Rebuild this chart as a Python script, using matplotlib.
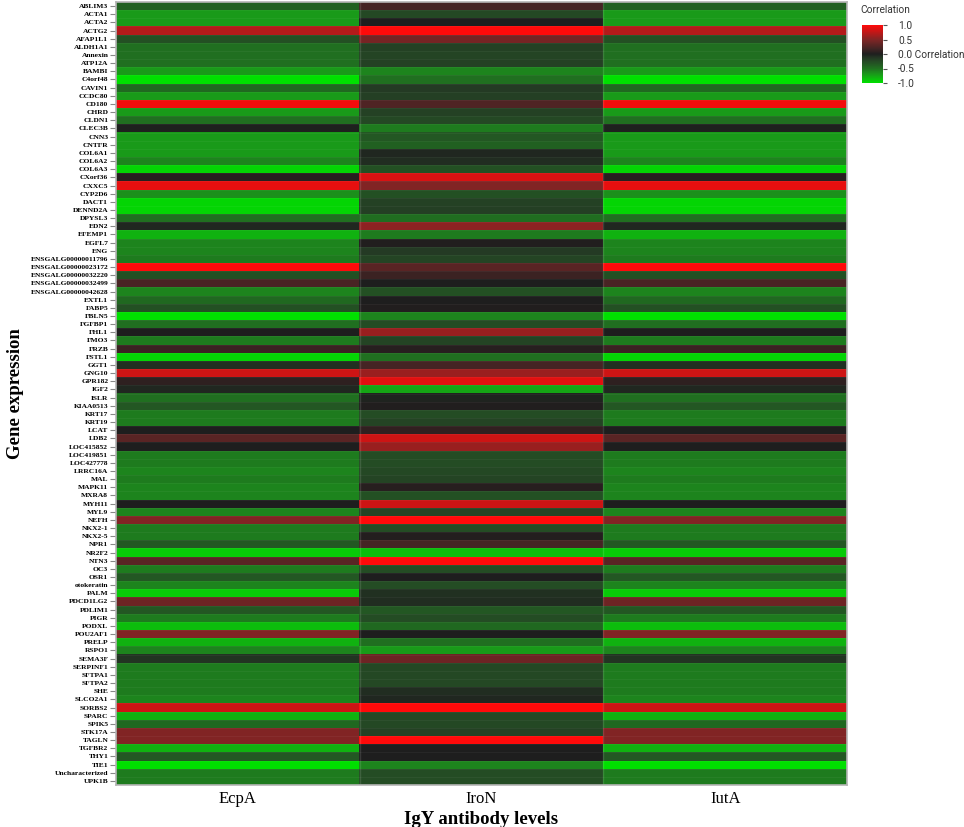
import matplotlib
matplotlib.use("Agg")
import matplotlib.pyplot as plt
import numpy as np
from matplotlib.colors import LinearSegmentedColormap

genes = ["ABLIM3", "ACTA1", "ACTA2", "ACTG2", "AFAP1L1", "ALDH1A1", "Annexin", "ATP12A",
         "BAMBI", "C4orf48", "CAVIN1", "CCDC80", "CD180", "CHRD", "CLDN1", "CLEC3B",
         "CNN3", "CNTFR", "COL6A1", "COL6A2", "COL6A3", "CXorf36", "CXXC5", "CYP2D6",
         "DACT1", "DENND2A", "DPYSL3", "EDN2", "EFEMP1", "EGFL7", "ENG",
         "ENSGALG00000011796", "ENSGALG00000023172", "ENSGALG00000032220",
         "ENSGALG00000032499", "ENSGALG00000042628", "EXTL1", "FABP5", "FBLN5",
         "FGFBP1", "FHL1", "FMO3", "FRZB", "FSTL1", "GGT1", "GNG10", "GPR182", "IGF2",
         "ISLR", "KIAA0513", "KRT17", "KRT19", "LCAT", "LDB2", "LOC415852",
         "LOC419851", "LOC427778", "LRRC16A", "MAL", "MAPK11", "MXRA8", "MYH11",
         "MYL9", "NEFH", "NKX2-1", "NKX2-5", "NPR1", "NR2F2", "NTN3", "OC3", "OSR1",
         "otokeratin", "PALM", "PDCD1LG2", "PDLIM1", "PIGR", "PODXL", "POU2AF1",
         "PRELP", "RSPO1", "SEMA3F", "SERPINF1", "SFTPA1", "SFTPA2", "SHE", "SLCO2A1",
         "SORBS2", "SPARC", "SPIK5", "STK17A", "TAGLN", "TGFBR2", "THY1", "TIE1",
         "Uncharacterized", "UPK1B"]

antibodies = ["EcpA", "IroN", "IutA"]

ecpa = [-0.4, -0.7, -0.7, 0.7, -0.3, -0.5, -0.5, -0.5, -0.7, -1.0,
        -0.45, -0.7, 0.95, -0.7, -0.5, -0.02, -0.7, -0.7, -0.7, -0.6,
        -0.95, 0.05, 0.9, -0.65, -0.95, -0.95, -0.5, -0.05, -0.8, -0.6,
        -0.6, -0.55, 1.0, -0.3, 0.22, -0.6, -0.45, -0.3, -1.0, -0.5,
        0.0, -0.55, 0.15, -0.95, -0.1, 0.8, 0.08, -0.05, -0.5, -0.35,
        -0.55, -0.55, 0.0, 0.3, 0.0, -0.55, -0.55, -0.6, -0.55, -0.6,
        -0.6, 0.0, -0.6, 0.5, -0.55, -0.55, -0.35, -0.9, 0.3, -0.55,
        -0.35, -0.6, -0.9, 0.4, -0.35, -0.55, -0.85, 0.5, -0.8, -0.6,
        -0.12, -0.55, -0.55, -0.55, -0.55, -0.6, 0.8, -0.8, -0.45, 0.5,
        0.5, -0.8, -0.35, -1.0, -0.55, -0.55]

iron = [0.2, -0.25, 0.0, 1.0, 0.45, -0.2, -0.22, -0.2, -0.6, -0.5,
        -0.15, -0.18, 0.25, -0.2, -0.25, -0.55, -0.35, -0.4, -0.05, -0.08,
        -0.3, 0.85, 0.5, -0.3, -0.2, -0.18, -0.48, 0.55, -0.55, 0.02,
        -0.15, -0.22, 0.3, 0.15, 0.0, -0.3, 0.0, 0.02, -0.6, -0.28,
        0.6, -0.22, 0.05, -0.5, 0.2, 0.6, 0.88, -0.75, -0.03, 0.02,
        -0.28, -0.22, 0.1, 0.8, 0.6, -0.28, -0.28, -0.25, -0.22, 0.05,
        -0.3, 0.8, -0.22, 1.0, -0.28, 0.03, 0.2, -0.85, 1.0, -0.28,
        0.0, -0.28, -0.1, -0.08, -0.35, -0.28, -0.45, 0.0, -0.5, -0.7,
        0.4, -0.25, -0.25, -0.25, -0.08, -0.05, 1.0, -0.25, -0.25, -0.2,
        1.0, 0.0, 0.0, -0.6, -0.28, -0.28]

# IutA column looks the same as EcpA in the picture
iuta = [-0.4, -0.7, -0.7, 0.7, -0.3, -0.5, -0.5, -0.5, -0.7, -1.0,
        -0.45, -0.7, 0.95, -0.7, -0.5, -0.02, -0.7, -0.7, -0.7, -0.6,
        -0.95, 0.05, 0.9, -0.65, -0.95, -0.95, -0.5, -0.05, -0.8, -0.6,
        -0.6, -0.55, 1.0, -0.3, 0.22, -0.6, -0.45, -0.3, -1.0, -0.5,
        0.0, -0.55, 0.15, -0.95, -0.1, 0.8, 0.08, -0.05, -0.5, -0.35,
        -0.55, -0.55, 0.0, 0.3, 0.0, -0.55, -0.55, -0.6, -0.55, -0.6,
        -0.6, 0.0, -0.6, 0.5, -0.55, -0.55, -0.35, -0.9, 0.3, -0.55,
        -0.35, -0.6, -0.9, 0.4, -0.35, -0.55, -0.85, 0.5, -0.8, -0.6,
        -0.12, -0.55, -0.55, -0.55, -0.55, -0.6, 0.8, -0.8, -0.45, 0.5,
        0.5, -0.8, -0.35, -1.0, -0.55, -0.55]

cbar_ticks = [1.0, 0.5, 0.0, -0.5, -1.0]
cbar_labels = ["1.0", "0.5", "0.0 Correlation", "-0.5", "-1.0"]

data = np.array([ecpa, iron, iuta]).T

# green - dark - red, with the greyish mid tones seen in the picture
cmap = LinearSegmentedColormap.from_list("gkr", [
    (0.0, "#00e000"), (0.15, "#1a9a1a"), (0.25, "#207020"), (0.35, "#245024"),
    (0.425, "#243a24"), (0.5, "#1e1e1e"), (0.6, "#452424"), (0.75, "#802525"),
    (0.9, "#cc1515"), (1.0, "#ff0a0a")])

fig = plt.figure(figsize=(9.64, 8.27), dpi=100)
ax = fig.add_axes([116/964, 1-785/827, (847-116)/964, 783/827])

im = ax.imshow(data, aspect="auto", cmap=cmap, vmin=-1, vmax=1, interpolation="nearest")

# faint separators between cells
for y in np.arange(len(genes) - 1) + 0.5:
    ax.axhline(y, color="white", alpha=0.05, lw=0.6)
for x in [0.5, 1.5]:
    ax.axvline(x, color="white", alpha=0.12, lw=1)

ax.set_yticks(np.arange(len(genes)))
ax.set_yticklabels(genes, fontfamily="Liberation Serif", fontweight="bold", fontsize=5.4)
ax.set_xticks(np.arange(len(antibodies)))
ax.set_xticklabels(antibodies, fontfamily="Liberation Serif", fontsize=12)
ax.tick_params(axis="y", length=4, width=0.8, color="#888888", pad=1.5)
ax.tick_params(axis="x", length=0, pad=4)

ax.set_ylabel("Gene expression", fontfamily="Liberation Serif", fontweight="bold",
              fontsize=13.5, labelpad=5)
ax.set_xlabel("IgY antibody levels", fontfamily="Liberation Serif", fontweight="bold",
              fontsize=13.5, labelpad=3)

for s in ax.spines.values():
    s.set_color("#b5b5b5")
    s.set_linewidth(1.2)

# colorbar
cax = fig.add_axes([862/964, 1-83/827, 21/964, 58/827])
cb = fig.colorbar(im, cax=cax, ticks=cbar_ticks)
cb.outline.set_visible(False)
cb.ax.set_yticklabels(cbar_labels, fontfamily="Roboto")
cb.ax.tick_params(labelsize=7.3, length=3, width=0.8, color="#555555",
                  labelcolor="#333333", pad=8)
fig.text(860/964, 1-10/827, "Correlation", fontsize=7.3, fontfamily="Roboto",
         color="#333333", va="center")

fig.savefig("out.png", dpi=100)
